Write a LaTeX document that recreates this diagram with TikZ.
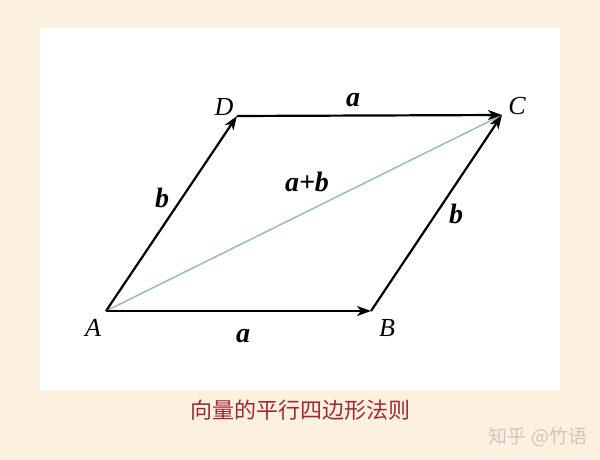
\documentclass[tikz,border=0pt]{standalone}
\usepackage{fontspec}
\setmainfont{Liberation Serif}
\newfontfamily\cjkfont{Noto Sans CJK SC}
\usetikzlibrary{arrows.meta}

\definecolor{paper}{RGB}{252,240,225}
\definecolor{sumgreen}{RGB}{150,195,160}
\definecolor{captionred}{RGB}{160,40,60}
\definecolor{markgray}{RGB}{205,198,190}

\tikzset{
  vec/.style={line width=2.2pt,-{Stealth[length=14pt,width=10pt,inset=4pt]}},
  sumvec/.style={vec,draw=sumgreen,line width=1.5pt},
  point/.style={inner sep=0pt,font=\fontsize{26}{26}\selectfont\itshape},
  veclabel/.style={inner sep=1pt,font=\fontsize{28}{28}\selectfont\bfseries\itshape}
}

\begin{document}
\begin{tikzpicture}[x=1pt,y=-1pt]
  % page and white panel
  \fill[paper] (0,0) rectangle (600,460);
  \fill[white] (40,28) rectangle (560,390);
  \useasboundingbox (0,0) rectangle (600,460);

  % corners of the parallelogram
  \coordinate (A) at (106,311);
  \coordinate (B) at (371,311);
  \coordinate (C) at (502,115);
  \coordinate (D) at (237,116);

  \node[point] (A label) at (93,328)  {A};
  \node[point] (B label) at (387,328) {B};
  \node[point] (C label) at (517,106) {C};
  \node[point] (D label) at (224,107) {D};

  % the vectors
  \draw[sumvec] (A) -- (C);
  \draw[vec] (A) -- (B);
  \draw[vec] (A) -- (D);
  \draw[vec] (D) -- (C);
  \draw[vec] (B) -- (C);

  \node[veclabel] (a bottom) at (243,336) {a};
  \node[veclabel] (a top)    at (353,100) {a};
  \node[veclabel] (b left)   at (162,198) {b};
  \node[veclabel] (b right)  at (456,214) {b};
  \node[veclabel] (sum)      at (307,182) {a+b};

  % caption and watermark
  \node[text=captionred,font=\cjkfont\fontsize{22}{22}\selectfont] (caption) at (300,410)
    {向量的平行四边形法则};
  \node[text=markgray,font=\cjkfont\fontsize{19}{19}\selectfont] (mark) at (538,437)
    {知乎 @竹语};
\end{tikzpicture}
\end{document}
